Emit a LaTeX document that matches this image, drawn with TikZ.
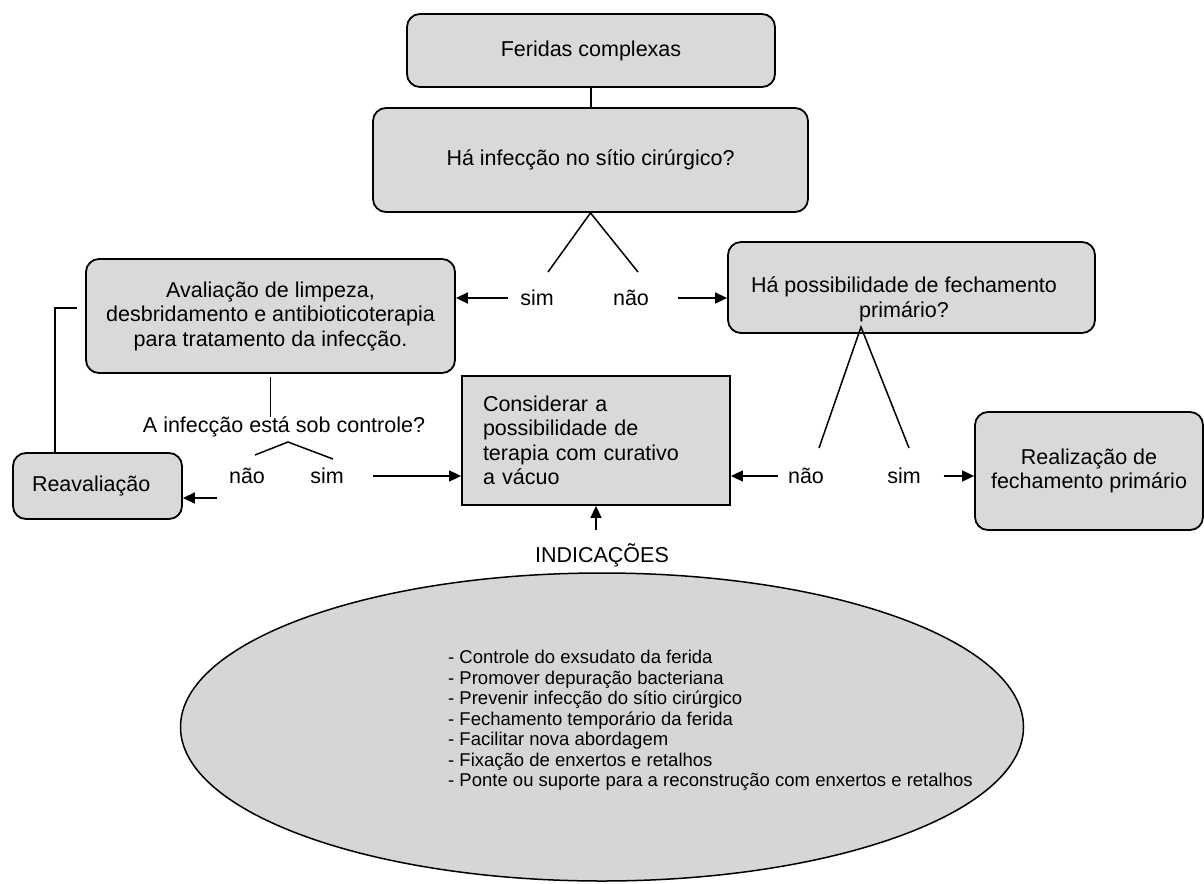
\documentclass[tikz,border=0pt]{standalone}
\usepackage{fontspec}
\setmainfont{Liberation Sans}
\usetikzlibrary{arrows.meta,shapes.geometric}
\definecolor{boxgray}{RGB}{217,217,217}
\definecolor{ovalgray}{RGB}{214,214,214}

\begin{document}
\begin{tikzpicture}
	[x=1pt,y=-1pt,
	 box/.style={draw, fill=boxgray, line width=1.8pt, rounded corners=13pt, inner sep=0pt, align=center, font=\fontsize{21.5}{24.5}\selectfont},
	 sqbox/.style={box, sharp corners},
	 lbl/.style={inner sep=0pt, font=\fontsize{21.5}{24.5}\selectfont},
	 ln/.style={line width=1.5pt},
	 arr/.style={ln, -{Triangle[length=12pt,width=11pt]}}]
	
	\useasboundingbox (0,0) rectangle (1204,883);
	
	\node[box, minimum width=368pt, minimum height=73pt] (feridas) at (591,50.5) {Feridas complexas};
	\node[box, minimum width=435pt, minimum height=104pt] (infeccao) at (590.5,160) {Há infecção no sítio cirúrgico?};
	\draw[ln] (feridas.south) -- (feridas.south |- infeccao.north);
	
	\node[lbl] (sim1) at (537,298) {sim};
	\node[lbl] (nao1) at (631,298) {não};
	\coordinate (t1l) at (548,272);
	\coordinate (t1r) at (638,272);
	\draw[ln] (t1l) -- (infeccao.south) -- (t1r);
	
	\node[box, minimum width=369pt, minimum height=114pt] (avaliacao) at (270.5,316)
		{Avaliação de limpeza,\\desbridamento e antibioticoterapia\\para tratamento da infecção.};
	\node[box, minimum width=367pt, minimum height=91pt] (possib) at (911.5,287.5) {};
	\node[lbl, align=center] (possibtxt) at (904,299.5) {Há possibilidade de fechamento\\primário?};
	\draw[arr] ([xshift=-12pt]sim1.west) -- (avaliacao.east |- sim1.west);
	\draw[arr] ([xshift=29pt]nao1.east) -- (possib.west |- nao1.east);
	
	% ramo da esquerda
	\node[lbl] (controle) at (284,427) {A infecção está sob controle?};
	\draw[ln] ([yshift=-3pt]avaliacao.south) -- (avaliacao.south |- controle.north);
	\node[lbl] (nao2) at (247,476) {não};
	\node[lbl] (sim2) at (327,476) {sim};
	\coordinate (t2) at (288,442);
	\coordinate (t2l) at (255,455);
	\coordinate (t2r) at (333,459);
	\draw[ln] (t2l) -- (t2) -- (t2r);
	
	\node[box, minimum width=169pt, minimum height=66pt, text width=131pt, align=left] (reav) at (97.5,486) {Reavaliação};
	\node[sqbox, minimum width=268pt, minimum height=129pt, text width=226pt, align=left] (considerar) at (596,440.5)
		{Considerar a\\possibilidade de\\terapia com curativo\\a vácuo};
	\coordinate (r1) at (217,498);
	\draw[arr] (r1) -- (reav.east |- r1);
	\draw[arr] ([xshift=29.5pt]sim2.east) -- (considerar.west |- sim2.east);
	\coordinate (fb) at (77,308);
	\draw[ln] ([xshift=43pt]reav.north west) |- (fb);
	
	% ramo da direita
	\node[box, minimum width=228pt, minimum height=118pt] (realiz) at (1089,471) {Realização de\\fechamento primário};
	\node[lbl] (nao3) at (806,476) {não};
	\node[lbl] (sim3) at (904,476) {sim};
	\coordinate (t3) at (861,327);
	\coordinate (t3l) at (819,448);
	\coordinate (t3r) at (909,448);
	\draw[ln] (t3l) -- (t3) -- (t3r);
	\draw[arr] ([xshift=-10pt]nao3.west) -- (considerar.east |- nao3.west);
	\draw[arr] ([xshift=23pt]sim3.east) -- (realiz.west |- sim3.east);
	
	% indicações
	\node[lbl] (indic) at (602,555) {INDICAÇÕES};
	\coordinate (u1) at (596,530);
	\draw[arr] (u1) -- (considerar.south);
	\node[ellipse, draw, fill=ovalgray, line width=1.5pt, minimum width=843pt, minimum height=308pt] (oval) at (602,727) {};
	\node[anchor=west, align=left, inner sep=0pt, font=\fontsize{18.5}{20.5}\selectfont] (lista) at (448,720.5)
		{- Controle do exsudato da ferida\\
		 - Promover depuração bacteriana\\
		 - Prevenir infecção do sítio cirúrgico\\
		 - Fechamento temporário da ferida\\
		 - Facilitar nova abordagem\\
		 - Fixação de enxertos e retalhos\\
		 - Ponte ou suporte para a reconstrução com enxertos e retalhos};
	
\end{tikzpicture}
\end{document}
